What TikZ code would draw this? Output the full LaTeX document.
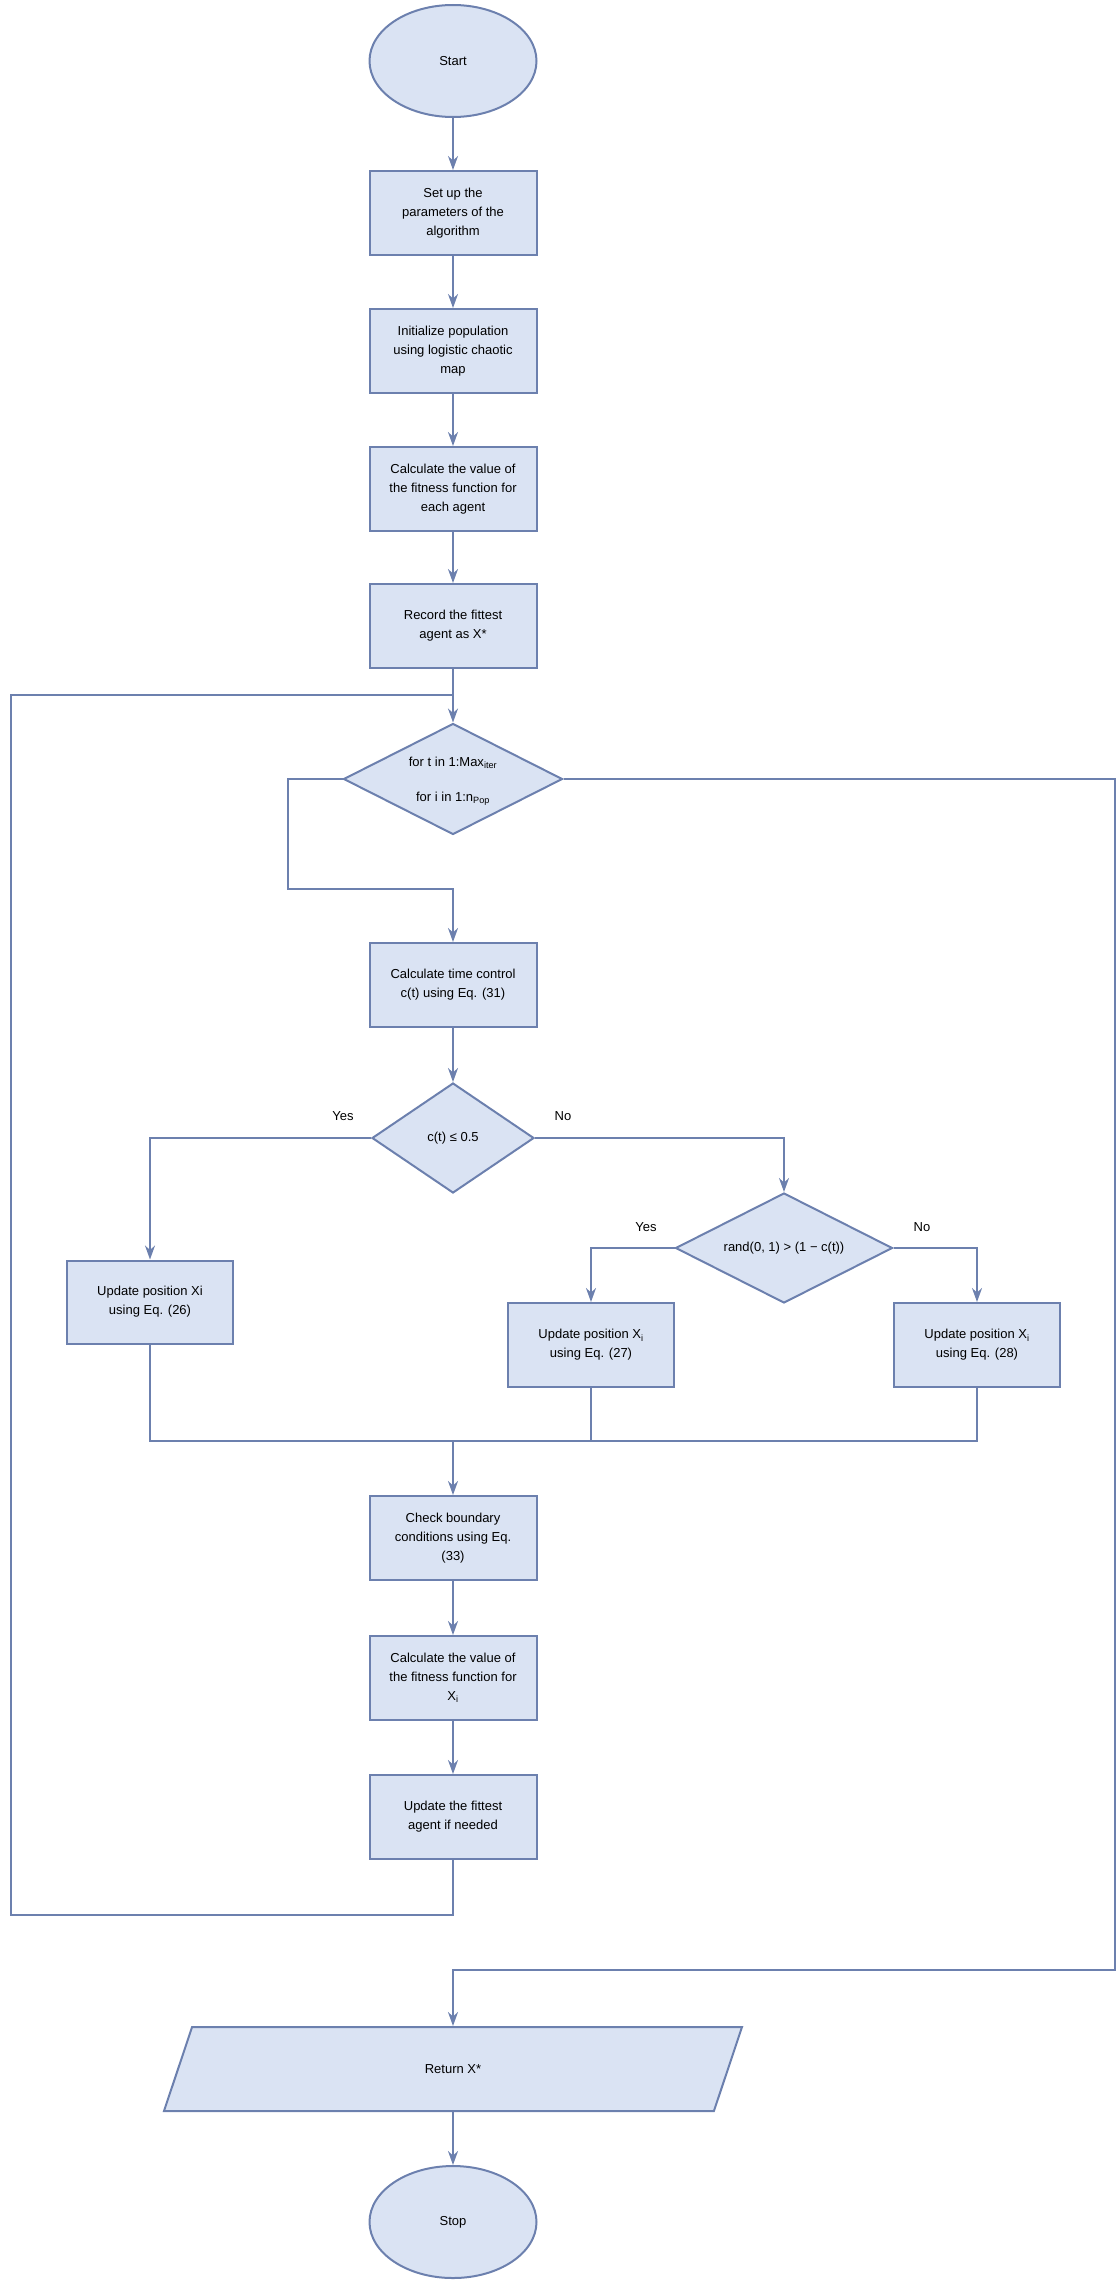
\documentclass[tikz,border=0pt]{standalone}
\usepackage{fontspec}
\setmainfont{Liberation Sans}
\usetikzlibrary{arrows.meta,shapes.geometric}
\definecolor{fc}{HTML}{DAE3F3}
\definecolor{lc}{HTML}{6C80AE}
\begin{document}
\begin{tikzpicture}[x=1pt,y=-1pt,
  every node/.style={font=\fontsize{13}{19}\selectfont, align=center, inner sep=0pt},
  box/.style={draw=lc, fill=fc, line width=2pt, minimum width=167pt, minimum height=84pt},
  term/.style={draw=lc, fill=fc, line width=2pt, ellipse, minimum width=167pt, minimum height=112pt},
  dec/.style={draw=lc, fill=fc, line width=2pt, diamond, aspect=1.4},
  lbl/.style={font=\fontsize{13}{15}\selectfont},
  ln/.style={draw=lc, line width=2pt},
  arr/.style={ln, -{Stealth[length=14pt,width=10pt]}}]
\useasboundingbox (0,0) rectangle (1119,2280);
\node[term] (start) at (453,61) {Start};
\node[box] (b1) at (453,213) {Set up the\\parameters of the\\algorithm};
\node[box] (b2) at (453,351) {Initialize population\\using logistic chaotic\\map};
\node[box] (b3) at (453,489) {Calculate the value of\\the fitness function for\\each agent};
\node[box] (b4) at (453,626) {Record the fittest\\agent as X*};
\node[dec, minimum width=219pt, minimum height=111pt, aspect=1.97] (d1) at (453,779) {};
\node at (453,763) {for t in 1:Max\textsubscript{iter}};
\node at (453,799) {for i in 1:n\textsubscript{Pop}};
\node[box] (b5) at (453,985) {Calculate time control\\c(t) using Eq. (31)};
\node[dec, minimum width=162pt, minimum height=110pt, aspect=1.47] (d2) at (453,1138) {c(t) ≤ 0.5};
\node[lbl] (y1) at (343,1116) {Yes};
\node[lbl] (n1) at (563,1116) {No};
\node[dec, minimum width=217pt, minimum height=110pt, aspect=1.97] (d3) at (784,1248) {rand(0, 1) > (1 − c(t))};
\node[lbl] (y2) at (646,1227) {Yes};
\node[lbl] (n2) at (922,1227) {No};
\node[box, minimum width=166pt, minimum height=83pt] (b6) at (150,1302) {Update position Xi\\using Eq. (26)};
\node[box, minimum width=166pt, minimum height=84pt] (b7) at (591,1345) {Update position X\textsubscript{i}\\using Eq. (27)};
\node[box, minimum width=166pt, minimum height=84pt] (b8) at (977,1345) {Update position X\textsubscript{i}\\using Eq. (28)};
\node[box] (b9) at (453,1538) {Check boundary\\conditions using Eq.\\(33)};
\node[box] (b10) at (453,1678) {Calculate the value of\\the fitness function for\\X\textsubscript{i}};
\node[box] (b11) at (453,1817) {Update the fittest\\agent if needed};
\node[draw=lc, fill=fc, line width=2pt, trapezium, trapezium left angle=71.5, trapezium right angle=108.5, minimum width=167pt, minimum height=84pt, inner xsep=0pt] (ret) at (453,2069) {Return X*};
\node[term] (stop) at (453,2222) {Stop};
\coordinate (m) at (453,1441);
\coordinate (top) at (453,695);
\draw[arr] (start) -- (b1);
\draw[arr] (b1) -- (b2);
\draw[arr] (b2) -- (b3);
\draw[arr] (b3) -- (b4);
\draw[arr] (b4) -- (d1);
\draw[arr] (d1.west) -- (288,779) -- (288,889) -- (453,889) -- (b5);
\draw[arr] (d1.east) -- (1115,779) -- (1115,1970) -- (453,1970) -- (ret);
\draw[arr] (b5) -- (d2);
\draw[arr] (d2.west) -- (150,1138) -- (b6);
\draw[arr] (d2.east) -- (784,1138) -- (d3);
\draw[arr] (d3.west) -- (591,1248) -- (b7);
\draw[arr] (d3.east) -- (977,1248) -- (b8);
\draw[ln] (b6) -- (150,1441) -- (977,1441) -- (b8);
\draw[ln] (b7) -- (591,1441);
\draw[arr] (m) -- (b9);
\draw[arr] (b9) -- (b10);
\draw[arr] (b10) -- (b11);
\draw[ln] (b11) -- (453,1915) -- (11,1915) -- (11,695) -- (top);
\draw[arr] (ret) -- (stop);
\end{tikzpicture}
\end{document}
